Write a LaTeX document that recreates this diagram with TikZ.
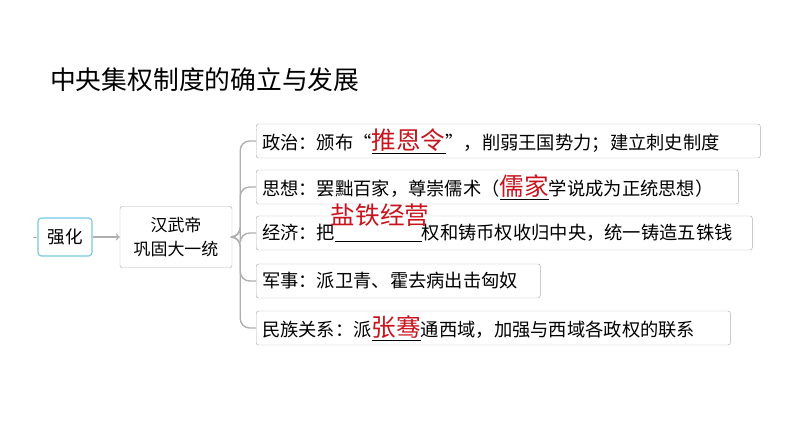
\documentclass[tikz,border=0pt]{standalone}
\usepackage{fontspec}
\setmainfont{Noto Sans CJK SC}
\usetikzlibrary{positioning}
\definecolor{boxgray}{RGB}{175,175,175}
\definecolor{qcyan}{RGB}{120,200,225}
\definecolor{ansred}{RGB}{200,20,30}
\newcommand{\ans}[1]{\underline{\textcolor{ansred}{\fontsize{21}{21}\selectfont #1}}}
\tikzset{
	item/.style={draw=boxgray, rounded corners=2pt, anchor=west, minimum height=1.02cm, inner xsep=5pt, align=left, font=\fontsize{15.6}{17}\selectfont},
	branch/.style={draw=boxgray, line width=1.2pt, rounded corners=8pt}
}
\begin{document}
\begin{tikzpicture}[x=0.03cm, y=-0.03cm]
	\useasboundingbox (0,0) rectangle (794,447);
	%Title
	\node[anchor=west, font=\fontsize{22}{24}\selectfont] (title) at (46,80) {中央集权制度的确立与发展};
	%Root
	\node[draw=qcyan, line width=1pt, rounded corners=3pt, minimum width=1.62cm, minimum height=1.14cm, font=\fontsize{15}{16}\selectfont] (qh) at (65,237) {强化};
	\coordinate (tick) at (33,237);
	\draw[boxgray] (tick) -- (qh.west);
	\node[draw=boxgray, rounded corners=2pt, minimum width=3.36cm, minimum height=1.83cm, align=center, font=\fontsize{14.5}{21}\selectfont] (hwd) at (176,237) {汉武帝\\巩固大一统};
	\draw[->, boxgray, line width=1.2pt] (qh) -- (hwd);
	%Items
	\node[item, text width=14.77cm] (zz) at (256,141) {政治：颁布“\ans{推恩令}”，削弱王国势力；建立刺史制度};
	\node[item, text width=14.11cm] (sx) at (256,187) {思想：罢黜百家，尊崇儒术（\ans{儒家}学说成为正统思想）};
	\node[item, text width=14.53cm] (jj) at (256,233) {经济：把\underline{\hspace{2.6cm}}权和铸币权收归中央，统一铸造五铢钱};
	\node[item, text width=8.17cm] (js) at (256,281) {军事：派卫青、霍去病出击匈奴};
	\node[item, text width=13.87cm] (mz) at (256,328) {民族关系：派\ans{张骞}通西域，加强与西域各政权的联系};
	\node[text=ansred, font=\fontsize{21}{21}\selectfont] (yt) at (380,215) {盐铁经营};
	%Branches
	\foreach \b in {zz,sx,jj,js,mz} {
		\draw[branch] (hwd.east) -- ++(8,0) |- (\b.west);
	}
\end{tikzpicture}
\end{document}
